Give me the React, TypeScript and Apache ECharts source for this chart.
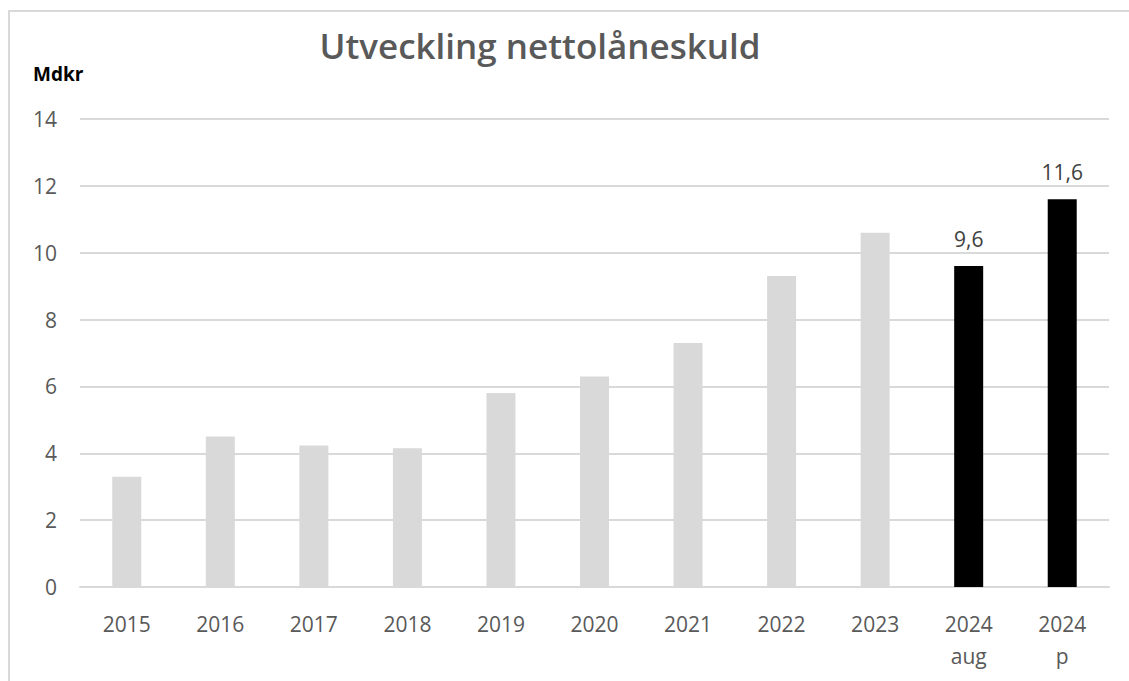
import React, { useEffect, useRef } from "react";
import * as echarts from "echarts";

const categories = ["2015", "2016", "2017", "2018", "2019", "2020", "2021", "2022", "2023", "2024\naug", "2024\np"];
const values = [3.3, 4.5, 4.23, 4.15, 5.8, 6.3, 7.3, 9.3, 10.6, 9.6, 11.6];
const highlighted = [false, false, false, false, false, false, false, false, false, true, true];
const yTicks = { min: 0, max: 14, interval: 2 };
const titleText = "Utveckling nettolåneskuld";
const unitText = "Mdkr";

const FONT = "'Open Sans', sans-serif";

export default function App() {
  const ref = useRef<HTMLDivElement>(null);
  useEffect(() => {
    document.body.style.margin = "0";
    const chart = echarts.init(ref.current!, null, { renderer: "svg" });
    chart.setOption({
      animation: false,
      backgroundColor: "#ffffff",
      grid: { left: 80, right: 20, top: 119, bottom: 94, containLabel: false },
      xAxis: {
        type: "category",
        data: categories,
        axisLine: { show: true, lineStyle: { color: "#d9d9d9", width: 2 } },
        axisTick: { show: false },
        axisLabel: {
          color: "#595959",
          fontFamily: FONT,
          fontSize: 21,
          lineHeight: 32,
          margin: 21,
        },
      },
      yAxis: {
        type: "value",
        min: yTicks.min,
        max: yTicks.max,
        interval: yTicks.interval,
        axisLine: { show: false },
        axisTick: { show: false },
        splitLine: { lineStyle: { color: "#d9d9d9", width: 2 } },
        axisLabel: {
          color: "#595959",
          fontFamily: FONT,
          fontSize: 21,
          margin: 23,
        },
      },
      series: [
        {
          type: "bar",
          barWidth: "31%",
          data: values.map((v, i) => ({
            value: v,
            itemStyle: { color: highlighted[i] ? "#000000" : "#d9d9d9" },
            label: {
              show: highlighted[i],
              position: "top",
              distance: 17,
              color: "#404040",
              fontFamily: FONT,
              fontSize: 21,
              formatter: (p: any) => String(p.value).replace(".", ","),
            },
          })),
        },
      ],
      graphic: [
        {
          type: "rect",
          shape: { x: 9, y: 11, width: 1300, height: 1000 },
          style: { fill: "none", stroke: "#d9d9d9", lineWidth: 2 },
          silent: true,
        },
        {
          type: "text",
          x: 540,
          y: 45,
          style: {
            text: titleText,
            fill: "#595959",
            font: `600 35px ${FONT}`,
            textAlign: "center",
            textVerticalAlign: "middle",
          },
        },
        {
          type: "text",
          x: 33,
          y: 74,
          style: {
            text: unitText,
            fill: "#000000",
            font: `bold 19px ${FONT}`,
            textAlign: "left",
            textVerticalAlign: "middle",
          },
        },
      ],
    });
    return () => chart.dispose();
  }, []);
  return <div ref={ref} style={{ width: 1129, height: 681 }} />;
}
